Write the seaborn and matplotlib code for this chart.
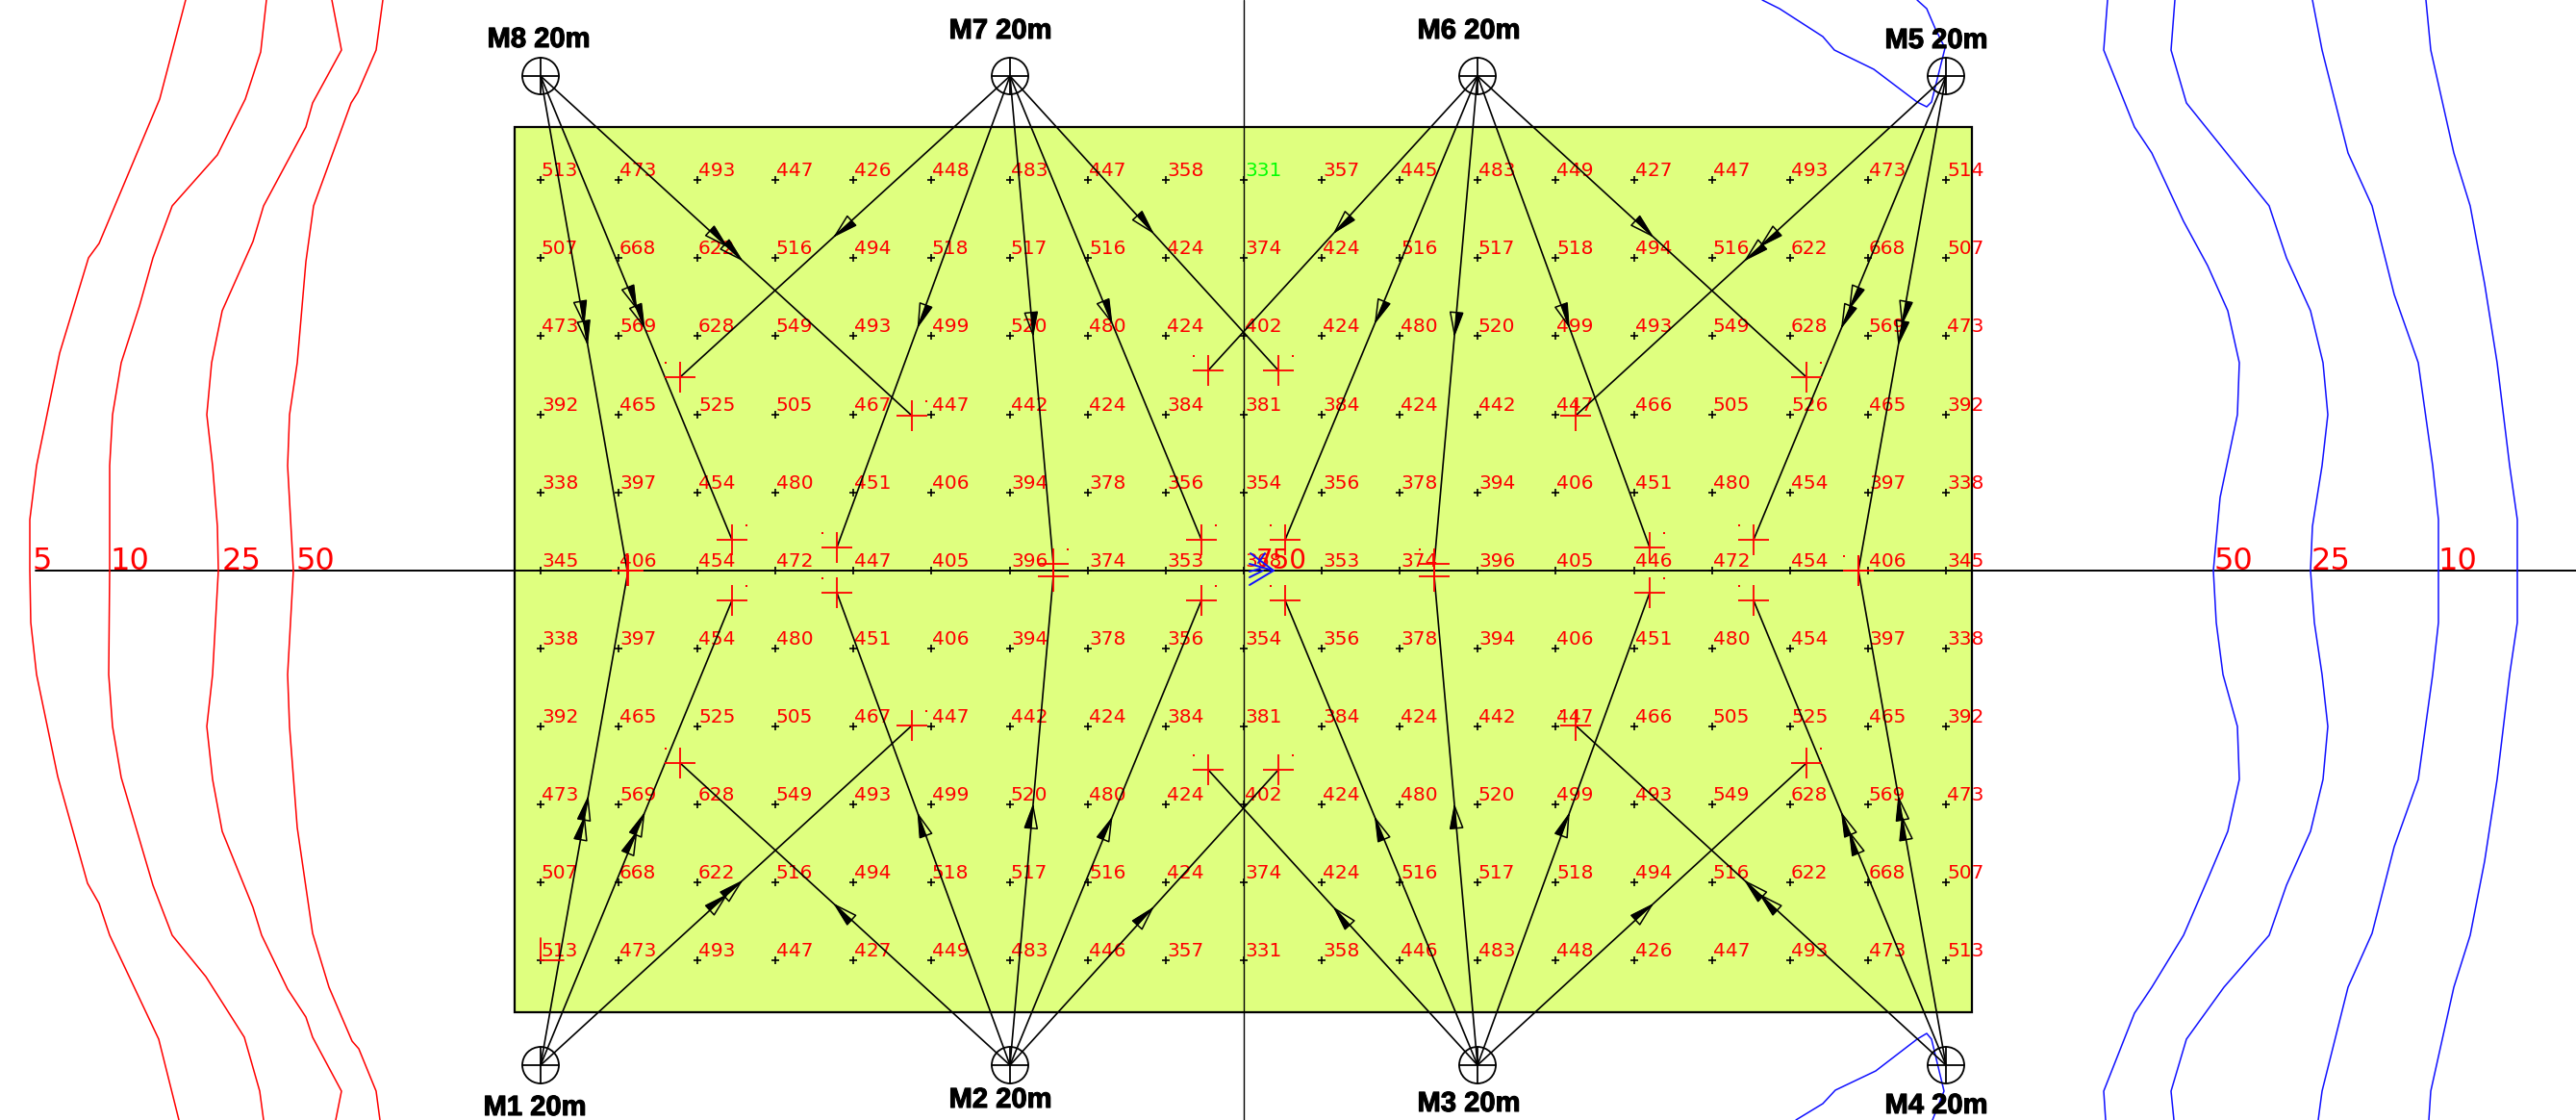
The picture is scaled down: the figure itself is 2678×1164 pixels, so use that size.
import numpy as np
import pandas as pd
import seaborn as sns
import matplotlib
matplotlib.use('Agg')
import matplotlib.pyplot as plt
import matplotlib.patheffects as pe
from matplotlib.patches import Circle, Rectangle

sns.set_theme(style='white')
plt.rcParams['font.family'] = ['DejaVu Sans']

# drawing units are the pixels of the sheet, y runs downwards
col_x = [562, 643, 725, 806, 887, 968, 1050, 1131, 1212, 1293, 1374, 1455, 1536, 1617, 1699, 1780, 1861, 1942, 2023]
row_y = [187, 268, 349, 431, 512, 593, 674, 755, 836, 917, 998]

lux = [
    [513, 473, 493, 447, 426, 448, 483, 447, 358, 331, 357, 445, 483, 449, 427, 447, 493, 473, 514],
    [507, 668, 622, 516, 494, 518, 517, 516, 424, 374, 424, 516, 517, 518, 494, 516, 622, 668, 507],
    [473, 569, 628, 549, 493, 499, 520, 480, 424, 402, 424, 480, 520, 499, 493, 549, 628, 569, 473],
    [392, 465, 525, 505, 467, 447, 442, 424, 384, 381, 384, 424, 442, 447, 466, 505, 526, 465, 392],
    [338, 397, 454, 480, 451, 406, 394, 378, 356, 354, 356, 378, 394, 406, 451, 480, 454, 397, 338],
    [345, 406, 454, 472, 447, 405, 396, 374, 353, 368, 353, 374, 396, 405, 446, 472, 454, 406, 345],
    [338, 397, 454, 480, 451, 406, 394, 378, 356, 354, 356, 378, 394, 406, 451, 480, 454, 397, 338],
    [392, 465, 525, 505, 467, 447, 442, 424, 384, 381, 384, 424, 442, 447, 466, 505, 525, 465, 392],
    [473, 569, 628, 549, 493, 499, 520, 480, 424, 402, 424, 480, 520, 499, 493, 549, 628, 569, 473],
    [507, 668, 622, 516, 494, 518, 517, 516, 424, 374, 424, 516, 517, 518, 494, 516, 622, 668, 507],
    [513, 473, 493, 447, 427, 449, 483, 446, 357, 331, 358, 446, 483, 448, 426, 447, 493, 473, 513],
]

# masts: name, position, label centre
mast_names = ['M1', 'M2', 'M3', 'M4', 'M5', 'M6', 'M7', 'M8']
mast_x = [562, 1050, 1536, 2023, 2023, 1536, 1050, 562]
mast_y = [1107, 1107, 1107, 1107, 79, 79, 79, 79]
label_x = [556, 1040, 1527, 2013, 2013, 1527, 1040, 560]
label_y = [1151, 1143, 1147, 1149, 42, 32, 32, 41]

# where each lamp of a mast is aimed
aim_x = {
    'M8': [652, 761, 948],
    'M7': [707, 870, 1095, 1249, 1329],
    'M6': [1256, 1336, 1491, 1715, 1878],
    'M5': [1638, 1823, 1932],
    'M1': [653, 761, 948],
    'M2': [707, 870, 1095, 1249, 1329],
    'M3': [1256, 1336, 1491, 1715, 1878],
    'M4': [1638, 1823, 1932],
}
aim_y = {
    'M8': [593, 561, 432],
    'M7': [392, 569, 586, 561, 385],
    'M6': [385, 561, 586, 569, 392],
    'M5': [432, 561, 593],
    'M1': [593, 624, 754],
    'M2': [793, 616, 599, 624, 800],
    'M3': [800, 624, 599, 616, 793],
    'M4': [754, 624, 593],
}
# side of the little dot beside each aim cross, 0 = none
aim_dot = {
    'M8': [0, 1, 1],
    'M7': [-1, -1, 1, 1, 1],
    'M6': [-1, -1, -1, 1, 1],
    'M5': [0, -1, -1],
    'M1': [0, 1, 1],
    'M2': [-1, -1, 0, 1, 1],
    'M3': [-1, -1, 0, 1, 1],
    'M4': [-1, -1, -1],
}

# isolines
left_lines = {
    '5': ([193, 166, 103, 92, 62, 38, 31, 31, 32, 38, 60, 91, 103, 114, 165, 186],
          [0, 103, 253, 268, 367, 484, 540, 593, 647, 701, 807, 918, 939, 972, 1080, 1164]),
    '10': ([277, 271, 255, 226, 179, 159, 145, 126, 117, 114, 114, 113, 117, 126, 159, 179, 214, 254, 270, 274],
           [0, 54, 103, 161, 214, 268, 318, 377, 431, 484, 593, 701, 755, 808, 920, 972, 1015, 1078, 1134, 1164]),
    '25': ([345, 355, 325, 318, 274, 263, 231, 220, 215, 221, 226, 227, 221, 215, 221, 231, 263, 272, 299, 318, 325, 355, 349],
           [0, 52, 107, 132, 214, 251, 323, 377, 431, 484, 547, 593, 701, 755, 810, 864, 943, 972, 1028, 1057, 1078, 1134, 1164]),
    '50': ([398, 391, 372, 365, 326, 318, 309, 301, 299, 305, 299, 301, 309, 325, 342, 366, 373, 391, 395],
           [0, 52, 96, 107, 214, 272, 377, 431, 484, 593, 701, 755, 860, 970, 1026, 1082, 1090, 1134, 1164]),
}
right_lines = {
    '50': ([2191, 2187, 2219, 2237, 2270, 2295, 2316, 2328, 2326, 2308, 2301, 2304, 2311, 2326, 2328, 2316, 2295, 2270, 2237, 2219, 2187, 2189],
           [0, 52, 132, 159, 230, 276, 323, 377, 431, 517, 593, 647, 701, 755, 810, 864, 914, 972, 1026, 1053, 1134, 1164]),
    '25': ([2261, 2257, 2273, 2359, 2377, 2402, 2415, 2420, 2414, 2404, 2402, 2406, 2414, 2420, 2415, 2402, 2377, 2359, 2312, 2273, 2257, 2260],
           [0, 52, 107, 214, 268, 323, 377, 431, 484, 547, 593, 647, 701, 755, 810, 864, 920, 972, 1026, 1080, 1134, 1164]),
    '10': ([2404, 2414, 2441, 2466, 2489, 2514, 2529, 2535, 2535, 2535, 2529, 2514, 2489, 2466, 2441, 2414, 2410],
           [0, 52, 159, 214, 306, 377, 484, 540, 593, 647, 701, 810, 880, 970, 1026, 1134, 1164]),
    '5': ([2522, 2527, 2551, 2568, 2583, 2596, 2609, 2617, 2617, 2617, 2609, 2596, 2583, 2568, 2551, 2527, 2525],
          [0, 52, 159, 214, 295, 377, 484, 540, 593, 647, 701, 810, 895, 972, 1026, 1134, 1164]),
}
corner_lines = {
    'top': ([1832, 1850, 1895, 1907, 1948, 1993, 2003, 2008, 2022, 2012, 2003, 1993],
            [0, 9, 38, 52, 72, 106, 111, 106, 50, 30, 9, 0]),
    'bottom': ([1867, 1895, 1908, 1950, 1993, 2003, 2008, 2021, 2009],
               [1164, 1147, 1133, 1113, 1080, 1074, 1080, 1134, 1164]),
}
left_labels = ['5', '10', '25', '50']
left_label_x = [33, 114, 231, 308]
right_labels = ['50', '25', '10']
right_label_x = [2301, 2403, 2534]

center_arrow_x0 = [1300, 1299, 1299, 1299, 1299, 1315]
center_arrow_y0 = [575, 586, 608, 600, 594, 575]
center_arrow_x1 = [1324, 1324, 1324, 1313, 1310, 1308]
center_arrow_y1 = [593, 593, 593, 593, 591, 585]

FIELD = '#dfff7f'
RED = '#ff0000'
BLUE = '#1010ff'

fig = plt.figure(figsize=(26.78, 11.64), dpi=100)
ax = fig.add_axes([0, 0, 1, 1])

ax.add_patch(Rectangle((535, 132), 1515, 920, facecolor=FIELD, edgecolor='black', lw=1.6, zorder=1))

# centre lines
ax.plot([37, 2678], [593, 593], color='black', lw=1.4, zorder=2)
ax.plot([1293, 1293], [0, 1164], color='black', lw=1.0, zorder=2)


def long_lines(lines, prefix):
    rows = []
    for name, (xs, ys) in lines.items():
        rows.append(pd.DataFrame({'x': xs, 'y': ys, 'id': prefix + name}))
    return pd.concat(rows, ignore_index=True)


for lines, prefix, col in [(left_lines, 'l', RED), (right_lines, 'r', BLUE), (corner_lines, 'c', BLUE)]:
    sns.lineplot(data=long_lines(lines, prefix), x='x', y='y', units='id', estimator=None, sort=False,
                 color=col, lw=1.1, ax=ax, legend=False, zorder=2)

for s, x in zip(left_labels, left_label_x):
    ax.text(x, 592, s, color=RED, fontsize=23, ha='left', va='baseline', zorder=3)
for s, x in zip(right_labels, right_label_x):
    ax.text(x, 592, s, color=RED, fontsize=23, ha='left', va='baseline', zorder=3)

# measuring grid
grid = pd.DataFrame(lux, index=row_y, columns=col_x).stack().reset_index()
grid.columns = ['y', 'x', 'lux']
sns.scatterplot(data=grid, x='x', y='y', marker='+', color='black', s=40, linewidth=1.2, ax=ax, legend=False, zorder=4)
for _, r in grid.iterrows():
    is_min = r['x'] == 1293 and r['y'] == 187
    ax.text(r['x'] + 1, r['y'] - 4, str(int(r['lux'])), color='#00ff00' if is_min else RED,
            fontsize=14.5, ha='left', va='baseline', zorder=4)

# beams with their half filled arrow heads
beams = []
for name, mx, my in zip(mast_names, mast_x, mast_y):
    for ax_, ay_, dot in zip(aim_x[name], aim_y[name], aim_dot[name]):
        beams.append((name, mx, my, ax_, ay_, dot))

beam_df = pd.DataFrame(
    [{'x': b[i], 'y': b[i + 1], 'id': n} for n, b in enumerate(t[1:5] for t in beams) for i in (0, 2)])
sns.lineplot(data=beam_df, x='x', y='y', units='id', estimator=None, sort=False, color='black',
             lw=1.2, ax=ax, legend=False, zorder=5)

for name, mx, my, tx, ty, dot in beams:
    p0 = np.array([mx, my], dtype=float)
    p1 = np.array([tx, ty], dtype=float)
    d = (p1 - p0) / np.hypot(*(p1 - p0))
    n = np.array([d[1], -d[0]])
    fracs = (0.50, 0.54) if name in ('M1', 'M4', 'M5', 'M8') else (0.53,)
    for f in fracs:
        tip = p0 + f * (p1 - p0)
        base = tip - 23 * d
        filled = base + 6.5 * n
        hollow = base - 6.5 * n
        ax.fill([tip[0], base[0], filled[0]], [tip[1], base[1], filled[1]], color='black', lw=0.5, zorder=5)
        ax.plot([tip[0], hollow[0], filled[0], tip[0]], [tip[1], hollow[1], filled[1], tip[1]],
                color='black', lw=1.1, zorder=5)

# aim crosses
aims = pd.DataFrame({'x': [b[3] for b in beams], 'y': [b[4] for b in beams]})
sns.scatterplot(data=aims, x='x', y='y', marker='+', color=RED, s=500, linewidth=1.3, ax=ax, legend=False, zorder=6)
dots = pd.DataFrame({'x': [b[3] + 15 * b[5] for b in beams if b[5]], 'y': [b[4] - 15 for b in beams if b[5]]})
ax.scatter(dots['x'], dots['y'], marker='s', s=2, color=RED, linewidths=0, zorder=6)

# stray partial cross by the M1 corner
ax.plot([562, 562, 586], [975, 998, 998], color=RED, lw=1.3, zorder=6)

# the pile up at the centre of the field
for x0, y0, x1, y1 in zip(center_arrow_x0, center_arrow_y0, center_arrow_x1, center_arrow_y1):
    ax.plot([x0, x1], [y0, y1], color=BLUE, lw=1.4, zorder=7)
ax.text(1306, 591, '750', color=RED, fontsize=20, ha='left', va='baseline', zorder=6)

# masts
for name, mx, my, lx, ly in zip(mast_names, mast_x, mast_y, label_x, label_y):
    ax.add_patch(Circle((mx, my), 19, facecolor='none', edgecolor='black', lw=1.3, zorder=7))
    ax.plot([mx - 19, mx + 19], [my, my], color='black', lw=1.3, zorder=7)
    ax.plot([mx, mx], [my - 19, my + 19], color='black', lw=1.3, zorder=7)
    ax.text(lx, ly, name + ' 20m', color='black', fontsize=21, fontweight='bold', family='Liberation Sans',
            ha='center', va='center', zorder=8,
            path_effects=[pe.withStroke(linewidth=0.8, foreground='black')])

ax.set_xlim(0, 2678)
ax.set_ylim(1164, 0)
ax.set_axis_off()
fig.savefig('out.png', dpi=100, facecolor='white')
